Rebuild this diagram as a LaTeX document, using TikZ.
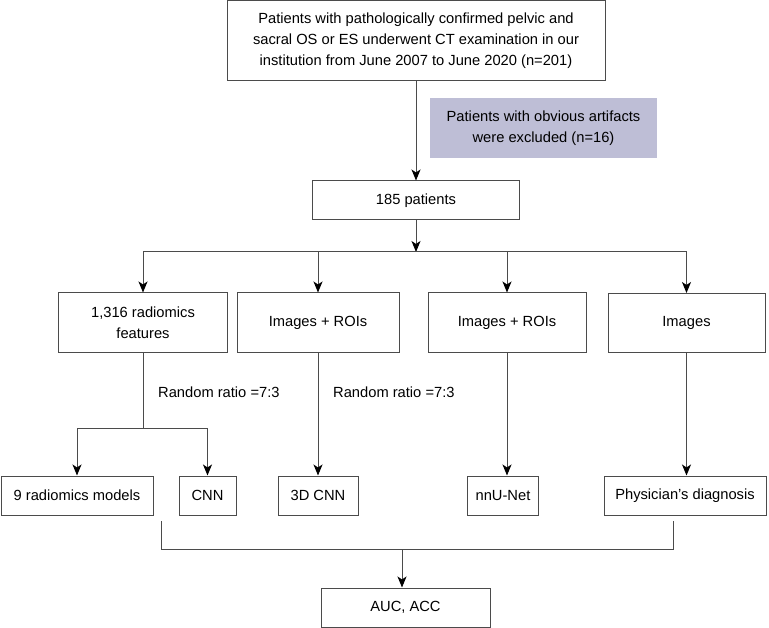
\documentclass[tikz,border=0pt]{standalone}
\usepackage{fontspec}
\setmainfont{Liberation Sans}
\usetikzlibrary{arrows.meta}
\definecolor{linegray}{RGB}{75,75,75}
\definecolor{exclfill}{RGB}{190,190,214}
\tikzset{
  box/.style={draw=linegray, line width=1pt, fill=white, align=center, inner sep=0pt,
              font=\fontsize{14.7}{21}\selectfont},
  excl/.style={fill=exclfill, align=center, inner sep=0pt, font=\fontsize{14.7}{21}\selectfont},
  conn/.style={draw=linegray, line width=1pt},
  arr/.style={conn, -{Stealth[length=11pt,width=9pt,inset=3pt,color=black]}},
  lbl/.style={anchor=west, inner sep=0pt, font=\fontsize{14.7}{16}\selectfont}
}
\begin{document}
\begin{tikzpicture}[x=1pt,y=-1pt]
\useasboundingbox (0,0) rectangle (769,628);
% nodes
\node[box, minimum width=378pt, minimum height=80pt] (top) at (416,41)
  {Patients with pathologically confirmed pelvic and\\sacral OS or ES underwent CT examination in our\\institution from June 2007 to June 2020 (n=201)};
\node[excl, minimum width=227pt, minimum height=60pt] (ex) at (543.5,128)
  {Patients with obvious artifacts\\were excluded (n=16)};
\node[box, minimum width=207pt, minimum height=39pt] (n185) at (416,200.5) {185 patients};
\node[box, minimum width=169pt, minimum height=60pt] (r1) at (143,323) {1,316 radiomics\\features};
\node[box, minimum width=162pt, minimum height=60pt] (r2) at (318,323) {Images + ROIs};
\node[box, minimum width=158pt, minimum height=60pt] (r3) at (507,323) {Images + ROIs};
\node[box, minimum width=157pt, minimum height=59pt] (r4) at (686.5,323) {Images};
\node[box, minimum width=152pt, minimum height=39pt] (b1) at (77,495.5) {9 radiomics models};
\node[box, minimum width=57pt, minimum height=39pt] (b2) at (207.5,495.5) {CNN};
\node[box, minimum width=80pt, minimum height=39pt] (b3) at (318,495.5) {3D CNN};
\node[box, minimum width=71pt, minimum height=39pt] (b4) at (503,495.5) {nnU-Net};
\node[box, minimum width=162pt, minimum height=39pt] (b5) at (685,495.5) {Physician’s diagnosis};
\node[box, minimum width=169pt, minimum height=39pt] (auc) at (405.5,607.5) {AUC, ACC};
\node[lbl] (rr1) at (158,392) {Random ratio =7:3};
\node[lbl] (rr2) at (333,392) {Random ratio =7:3};
% coordinates
\coordinate (split) at (416,252);
\coordinate (sl) at (143,252);
\coordinate (sr) at (686.5,252);
\coordinate (s1) at (143,429);
\coordinate (s1l) at (77,429);
\coordinate (s1r) at (207.5,429);
\coordinate (jl) at (161,521);
\coordinate (jlb) at (161,549);
\coordinate (jr) at (673,521);
\coordinate (jrb) at (673,549);
\coordinate (jm) at (402,549);
% connectors
\draw[arr] (top.south) -- (n185.north);
\draw[arr] (n185.south) -- (split);
\draw[conn] (sl) -- (sr);
\draw[arr] (sl) -- (r1.north);
\draw[arr] (r2.north |- split) -- (r2.north);
\draw[arr] (r3.north |- split) -- (r3.north);
\draw[arr] (sr) -- (r4.north);
\draw[conn] (r1.south) -- (s1);
\draw[conn] (s1l) -- (s1r);
\draw[arr] (s1l) -- (b1.north);
\draw[arr] (s1r) -- (b2.north);
\draw[arr] (r2.south) -- (b3.north);
\draw[arr] (r3.south) -- (r3.south |- b4.north);
\draw[arr] (r4.south) -- (r4.south |- b5.north);
\draw[conn] (jl) -- (jlb) -- (jrb) -- (jr);
\draw[arr] (jm) -- (auc.north -| jm);
\end{tikzpicture}
\end{document}
